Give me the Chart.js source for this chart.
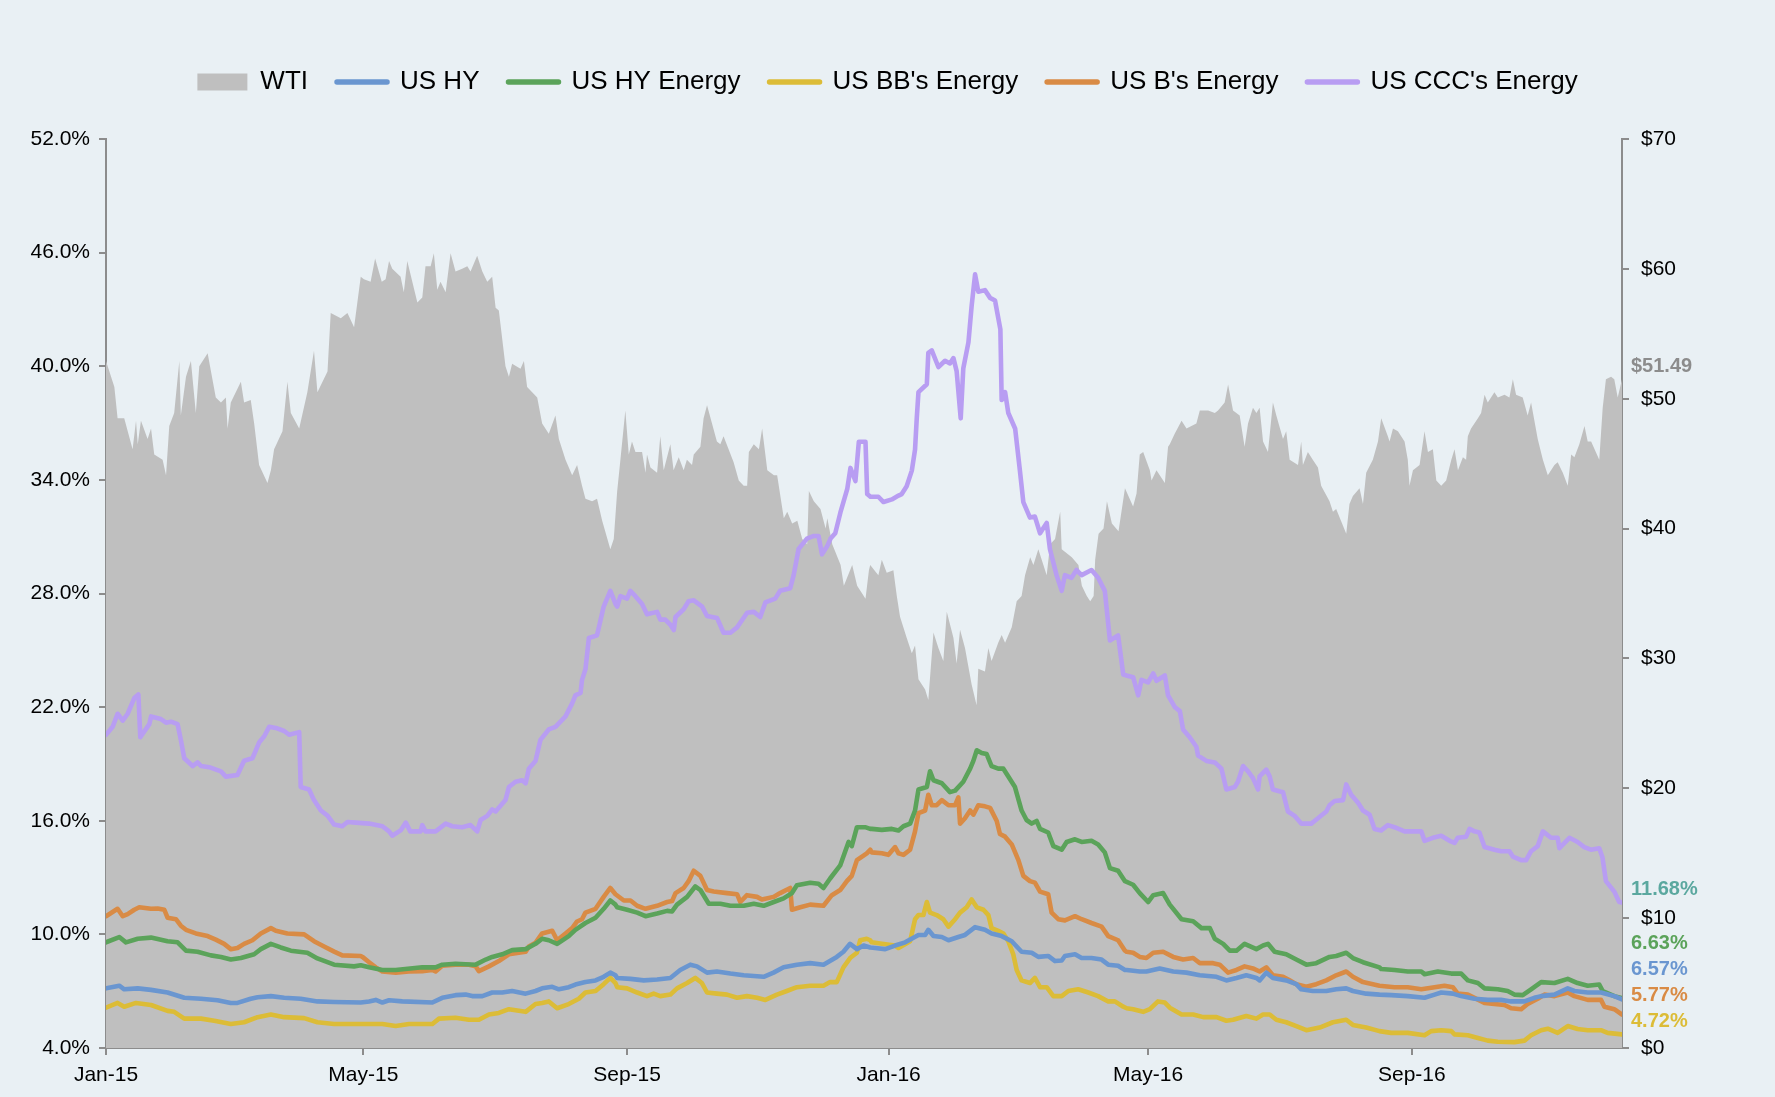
<!DOCTYPE html>
<html>
<head>
<meta charset="utf-8">
<script src="https://cdn.jsdelivr.net/npm/chart.js@4.4.1/dist/chart.umd.min.js"></script>
<style>
html, body { margin: 0; padding: 0; background: #e9f0f4; }
#wrap { width: 1775px; height: 1097px; }
</style>
</head>
<body>
<div id="wrap"><canvas id="spreadChart" width="1775" height="1097"></canvas></div>
<script>
// x values are days since 1 Jan 2015
const xTickDays = [0, 120, 243, 365, 486, 609];
const xTickLabels = ['Jan-15', 'May-15', 'Sep-15', 'Jan-16', 'May-16', 'Sep-16'];

// WTI price ($, right axis)
const wtiDays = [0,3.9,5.4,8.5,12.4,14,14.8,16.3,19.4,21,22.5,26.4,28,29.5,31.8,34.2,34.9,37.3,39.6,41.9,43.5,47.4,51.2,53.6,55.9,56.7,58.2,62.9,64.4,67.5,69.1,71.4,75.3,76.9,78.4,82.3,84.6,86.2,90.1,93.9,97,98.6,103.3,104.8,109.5,112.6,115.7,
  118.8,120.3,123.4,125.5,128.6,130.4,132,133.5,137.4,138.9,140.5,145.2,147.5,149,151.4,152.9,154.5,156,158.4,160.7,163,166.1,168.5,170,173.1,175.5,177.8,180.1,181.7,183.2,186.3,187.9,189.4,193.3,194.9,196.4,201.1,203.4,206.5,209.6,211.2,214.3,217.4,219.7,222,223.6,226.7,229,231.4,235.2,
  236.8,238.4,239.9,242.2,243.8,245.3,246.9,250,251.6,252.3,253.9,257,258.5,260.1,263.2,264.7,267.1,269.4,270.9,273.3,274.1,277.2,278.7,280.3,284.9,286.5,288,292.7,295.1,297.4,299,299.8,302.1,304.5,306,308.4,311.5,313,316.1,317.7,320,322.4,324.7,327,327.8,330.1,333.2,335.6,336.4,338.7,342.6,344.1,348,350.3,354.2,355.8,
  356.4,360.2,361.8,364.1,367.2,368.8,370.3,373.4,375.8,377.3,378.9,382,383.5,385.9,388.2,390.5,392.1,395.2,396.7,398.3,400.6,403.7,406,406.8,409.9,411.5,413,416.1,417.7,419.3,422.4,424.7,427,428.6,431,432.5,434.8,438.7,440.3,442.6,445,445.7,450.4,453.5,455.1,457.4,459,460.6,461.3,462.9,465.2,466.8,469.1,472.2,
  475.2,479,480.6,482.1,483.7,486.8,487.6,489.9,493.8,495.3,496.1,498.4,501.6,503.9,508.5,510.1,514,517.1,518.6,521.7,523.3,525.6,528.7,531,532.6,534.9,536.5,538,539.6,541.9,544.2,545.8,548.9,550.4,552,555.9,557.4,558.2,560.5,562.8,565.2,566.7,570.6,572.2,573.7,578.4,579.9,581.5,584.6,586.2,587.7,590.8,
  593.2,594.7,597.8,598.6,600.2,602.5,605.6,607.1,607.9,609.5,612.6,614.9,616.5,618.8,620.4,622.7,625,627.4,628.9,630.5,632.8,634.3,635.1,636.6,639.8,641.3,642.9,644.4,647.5,649.1,652.2,654.5,656.1,657.6,660.7,663,664.6,667.7,670.1,672.4,675.5,677,679.4,681.7,683.3,684.8,687.1,689.5,691,692.6,696.4,698,699.5,701.9,703.4,705,707];
const wtiPrice = [52.9,50.9,48.5,48.5,46.1,48.3,46.5,48.3,46.9,47.7,45.7,45.3,44.1,47.9,48.9,52.9,48.7,51.7,52.9,48.9,52.5,53.5,50.1,49.7,50.1,47.7,49.7,51.3,49.7,49.9,48.1,44.9,43.5,44.5,46.1,47.5,51.3,48.9,47.7,50.5,53.7,50.5,52.1,56.6,56.2,56.6,55.5,
  59.4,59.2,59.0,60.8,59.0,59.2,60.6,60.0,59.4,58.2,60.6,57.4,57.8,60.2,60.2,61.2,58.4,59.0,58.2,61.2,59.8,60.0,60.2,59.8,61.0,59.8,59.0,59.4,57.0,56.8,52.5,51.7,52.7,52.3,52.9,50.9,50.1,48.1,47.3,48.7,46.9,45.3,44.1,44.9,43.3,42.3,42.1,42.3,40.6,38.4,
  39.2,42.9,45.3,49.1,45.7,46.7,45.9,45.9,44.3,45.7,44.7,44.3,47.1,44.5,46.5,44.5,45.5,44.5,45.3,44.9,45.7,46.3,48.5,49.5,46.7,46.5,47.1,45.1,43.7,43.3,43.3,45.9,46.5,46.1,47.7,44.5,44.1,44.1,40.8,41.3,40.4,40.6,39.2,38.8,42.9,42.1,41.5,40.0,40.8,38.8,37.2,35.6,37.2,35.6,34.6,36.8,
  37.2,36.4,37.6,36.6,36.8,34.8,33.2,31.6,30.4,31.0,28.4,27.6,26.8,32.0,30.8,29.8,33.6,31.6,29.6,32.2,30.8,28.0,26.4,29.2,29.0,30.8,29.8,31.2,31.8,31.2,32.4,34.4,34.8,36.4,37.8,37.2,38.4,36.4,38.8,39.2,41.3,38.4,37.8,37.2,35.6,34.8,34.4,34.8,37.6,39.6,40.0,42.1,40.4,39.8,
  43.1,41.7,42.7,45.7,45.9,44.5,43.7,44.5,43.5,46.3,46.5,47.3,48.3,47.7,48.1,49.1,49.1,48.9,49.1,49.7,51.1,49.1,48.7,46.3,48.1,49.3,48.9,49.3,46.7,45.9,49.7,48.7,46.9,47.5,45.3,44.9,46.7,44.9,45.9,45.3,44.7,43.3,42.1,41.3,41.5,39.6,41.9,42.5,43.1,41.9,44.3,45.3,
  46.7,48.5,47.1,46.7,47.7,47.5,46.7,45.3,43.3,44.5,44.9,47.5,45.9,46.1,43.7,43.3,43.7,45.3,46.1,44.5,45.5,45.3,47.1,47.7,48.5,48.9,50.3,49.7,50.5,50.1,50.3,50.1,51.5,50.3,50.1,48.7,49.7,46.9,45.3,44.1,44.9,45.1,44.3,43.3,45.7,45.5,46.5,47.9,46.7,46.7,45.3,49.3,51.5,51.7,51.5,50.1,51.49];

// US HY yield (%)
const hyDays = [0,6.2,8.5,14.8,21,28.7,36.5,44.3,52,58.2,61.3,67.5,70.7,76.9,83.1,90.8,98.6,106.4,118.8,
  122.7,125.8,128.9,132,138.2,152.2,156.8,163,167.7,170.8,175.5,180.1,184.8,189.4,195.7,200.3,203.4,208.1,211.2,215.8,218.9,223.6,228.3,232.1,235.2,237.6,
  238.4,244.6,250.8,257,263.2,267.8,272.5,275.6,280.3,284.9,291.2,297.4,306.7,311.3,316,322.2,328.4,334.6,340.8,343.9,347,350.2,353.3,356.4,
  358.7,363.4,368,372.7,378.9,382,383.5,385.9,389.8,392.9,397.5,400.6,405.3,409.9,413,417.7,422.4,427,431.7,434.8,439.4,442.6,445.7,447.2,451.9,455,459.6,464.3,467.4,472,475.2,
  476,482.1,485.2,491.4,497.7,503.9,510.1,517.9,522.5,527.2,531.8,536.5,538,541.1,544.2,550.4,555.1,557.4,562.8,569.1,573.7,578.4,581.5,587.7,593.9,
  599.4,607.1,614.9,619.6,622.7,628.1,632,638.2,644.4,650.6,655.3,661.5,666.1,669.3,675.5,681.7,684.8,691,697.2,703.4,707];
const hyYield = [7.15,7.29,7.10,7.15,7.07,6.93,6.65,6.60,6.52,6.38,6.38,6.60,6.68,6.74,6.65,6.60,6.46,6.43,6.40,
  6.46,6.54,6.40,6.52,6.46,6.40,6.65,6.79,6.82,6.74,6.74,6.93,6.93,7.01,6.87,7.01,7.15,7.23,7.10,7.21,7.35,7.48,7.57,7.76,7.98,7.84,
  7.70,7.65,7.57,7.62,7.70,8.12,8.40,8.31,7.98,8.04,7.93,7.84,7.76,7.98,8.26,8.40,8.48,8.40,8.81,9.08,9.50,9.22,9.41,9.31,
  9.28,9.22,9.41,9.58,9.97,9.97,10.24,9.91,9.86,9.69,9.86,9.97,10.38,10.24,10.05,9.91,9.64,9.08,9.03,8.81,8.86,8.59,8.62,8.86,8.95,8.75,8.75,8.67,8.40,8.34,8.12,
  8.12,8.04,8.04,8.20,8.04,7.98,7.84,7.76,7.57,7.70,7.84,7.70,7.57,7.98,7.70,7.57,7.37,7.10,7.01,7.01,7.10,7.15,7.01,6.87,6.82,
  6.79,6.74,6.65,6.82,6.93,6.87,6.74,6.60,6.54,6.54,6.46,6.46,6.65,6.74,6.82,7.15,7.01,6.93,6.93,6.74,6.57];

// US HY Energy yield (%)
const hyEnergyDays = [0,6.2,9.3,14.8,21,28.7,33.4,37.3,42.7,48.9,53.6,58.2,62.9,69.1,72.2,76.9,81.5,86.2,93.9,98.6,106.4,115.7,118.8,
  122.7,128.9,135.1,147.5,153.7,156.8,163,172.4,177.1,180.1,184.8,189.4,195.7,200.3,203.4,206.5,210.4,215.8,218.9,223.6,228.3,232.1,235.2,237.6,
  238.4,243,247.7,251.6,257,261.7,264,266.3,271,274.8,277.2,281.1,286.5,291.2,297.4,302.1,306.7,311.4,316,319.9,322.2,328.4,332.3,334.6,337.7,342.4,346.3,347.8,350.2,354,356.4,
  357.1,361.8,366.5,369.6,371.9,375,377.3,378.9,382.8,384.3,385.9,389.8,393.6,396,399.8,403,404.5,406.1,408.4,410.7,413,416.1,418.5,420.8,423.9,427,429.3,431.7,434,435.6,439.4,441.8,445.7,448,451.9,455,459.6,462.7,465.8,468.2,472,475.2,
  479,482.1,486,488.4,493,496.1,501.6,507,510.9,514.8,517.1,521,524.1,527.2,531,536.5,539.6,541.9,545,550.4,555.1,559.8,564.4,570.6,573.7,578.4,581.5,586.2,593.9,
  594.7,600.9,607.1,613.4,614.9,621.1,627.4,632,635.1,639.8,642.9,649.1,653.7,656.8,660.7,664.6,669.3,675.5,681.7,686.3,691,696.4,698,703.4,707];
const hyEnergyYield = [9.58,9.86,9.58,9.77,9.83,9.64,9.58,9.14,9.08,8.89,8.81,8.67,8.75,8.95,9.22,9.50,9.31,9.14,9.03,8.73,8.40,8.31,8.37,
  8.26,8.12,8.12,8.26,8.26,8.40,8.45,8.40,8.67,8.81,8.95,9.17,9.22,9.50,9.77,9.69,9.50,9.91,10.24,10.60,10.88,11.35,11.79,11.57,
  11.43,11.30,11.15,10.96,11.10,11.24,11.21,11.57,11.98,12.53,12.34,11.62,11.62,11.51,11.51,11.62,11.51,11.71,11.90,12.18,12.59,12.73,12.67,12.45,12.95,13.64,14.88,14.66,15.66,15.66,15.57,
  15.57,15.52,15.57,15.49,15.71,15.85,16.54,17.65,17.78,18.61,18.14,17.98,17.51,17.59,18.06,18.75,19.16,19.72,19.58,19.52,18.89,18.75,18.75,18.34,17.78,16.54,16.04,15.85,15.99,15.57,15.38,14.66,14.47,14.88,15.02,14.88,14.94,14.75,14.33,13.50,13.36,12.81,
  12.62,12.18,11.71,12.07,12.18,11.57,10.80,10.69,10.33,10.33,9.77,9.50,9.14,9.14,9.50,9.22,9.41,9.50,9.08,8.95,8.67,8.40,8.48,8.81,8.86,9.03,8.75,8.53,8.26,
  8.17,8.12,8.04,8.04,7.90,8.04,7.93,7.93,7.57,7.43,7.15,7.10,7.01,6.82,6.79,7.10,7.48,7.43,7.65,7.43,7.29,7.35,7.01,6.74,6.63];

// US BB's Energy yield (%)
const bbDays = [0,5.4,8.5,14,21,28.7,31.8,36.5,44.3,50.5,58.2,64.4,70.7,76.9,83.1,92.4,98.6,106.4,118.8,
  128.9,135.1,141.3,152.2,155.3,163,169.3,173.9,178.6,183.2,187.9,195.7,200.3,203.4,206.5,210.4,215.8,220.5,223.6,228.3,232.1,235.2,237.6,
  238.4,243,247.7,252.3,255.4,258.5,263.2,266.3,271,274.8,277.9,280.3,284.9,289.6,294.3,298.9,303.6,307.5,312.9,317.5,322.2,328.4,334.6,337.7,340.8,343.9,347,350.2,351.7,354.8,356.4,
  357.1,361.8,368,369.6,375,377.3,378.9,381.2,382.8,384.3,387.4,390.5,392.9,396,398.3,401.4,403.7,406.1,409.2,411.5,413,416.1,418.5,420.8,423.1,424.7,427,430.9,433.2,435.6,438.7,441.8,445.7,448.8,453.4,458.1,462.7,467.4,470.5,474.4,
  476,479,483.7,486.8,490.6,493.8,496.1,501.6,507,511.7,517.9,522.5,525.6,531.8,536.5,539.6,542.7,545.8,550.4,555.1,559.8,566,572.2,578.4,581.5,587.7,593.9,
  599.4,607.1,614.9,618,622.7,627.4,628.9,635.1,639.8,644.4,649.1,656.8,661.5,664.6,669.3,672.4,677,681.7,686.3,691,697.2,700.3,707];
const bbYield = [6.13,6.38,6.18,6.38,6.27,5.96,5.91,5.55,5.55,5.44,5.27,5.36,5.63,5.77,5.63,5.58,5.36,5.27,5.27,
  5.27,5.16,5.27,5.27,5.55,5.60,5.49,5.49,5.77,5.85,6.05,5.91,6.32,6.38,6.46,6.10,6.32,6.60,6.93,7.01,7.37,7.70,7.43,
  7.21,7.15,6.93,6.74,6.87,6.74,6.82,7.15,7.43,7.70,7.43,6.93,6.87,6.82,6.65,6.74,6.65,6.54,6.82,7.01,7.21,7.29,7.29,7.48,7.48,8.26,8.75,9.03,9.69,9.77,9.69,
  9.58,9.50,9.41,9.28,9.64,10.80,11.02,11.02,11.71,11.15,11.02,10.80,10.41,10.80,11.15,11.43,11.84,11.43,11.30,11.02,10.33,10.19,10.05,9.64,8.95,8.12,7.57,7.43,7.70,7.21,7.21,6.74,6.74,7.01,7.10,6.93,6.74,6.46,6.46,6.18,
  6.10,6.05,5.91,6.05,6.46,6.40,6.13,5.77,5.77,5.63,5.63,5.44,5.49,5.69,5.55,5.77,5.77,5.49,5.36,5.16,4.94,5.08,5.36,5.49,5.22,5.08,4.89,
  4.80,4.80,4.67,4.89,4.94,4.89,4.72,4.67,4.53,4.39,4.33,4.31,4.39,4.67,4.94,5.02,4.80,5.16,5.00,4.94,4.94,4.80,4.72];

// US B's Energy yield (%)
const bDays = [0,5.4,7.8,10.1,13.2,15.5,21,24.1,27.2,28.7,32.6,34.9,37.3,41.9,47.4,51.2,55.1,58.2,61.3,64.4,68.3,72.2,76.9,79.2,84.6,92.4,97,101.7,106.4,110.2,118.8,
  119.6,122.7,125.8,128.9,135.1,141.3,147.5,152.2,153.7,156.8,163,169.3,172.4,173.9,178.6,183.2,187.9,192.5,195.7,197.2,200.3,203.4,208.1,210.4,214.3,217.4,219.7,222,223.6,228.3,232.1,235.2,237.6,
  241.5,244.6,247.7,251.6,257,261.7,264,265.6,269.4,271.7,274.1,277.2,280.3,283.4,289.6,294.3,295.8,298.9,303.6,305.9,311.3,314.4,319.1,319.9,323.8,328.4,334.6,338.5,342.4,345.5,347.8,350.2,354.8,356.4,
  357.1,361.8,364.9,368,369.6,371.9,375,377.3,378.9,382,383.5,385.1,387.4,389.8,392.9,396,397.5,398.3,400.6,403,404.5,406.8,409.9,412.3,415.4,416.9,419.3,422.4,425.5,427.8,430.9,433.2,435.6,439.4,441,444.1,447.2,451.9,455,459.6,464.3,467.4,472,475.2,
  476,479,482.1,485.2,488.4,493,497.7,502.3,507,510.1,516.3,519.4,523.3,527.2,531,534.9,538,541.1,544.2,548.9,552,555.1,559.8,564.4,569.1,573.7,578.4,581.5,586.2,593.9,
  600.9,607.1,613.4,619.6,624.2,628.1,630.4,635.1,638.2,642.9,647.5,652.2,655.3,660,663,667.7,670.8,675.5,681.7,684.8,691,697.2,698.8,703.4,707];
const bYield = [10.96,11.35,10.96,11.07,11.30,11.43,11.35,11.37,11.30,10.88,10.80,10.46,10.24,10.05,9.91,9.72,9.50,9.22,9.28,9.50,9.69,10.05,10.33,10.19,10.05,10.00,9.64,9.36,9.09,8.89,8.86,
  8.81,8.53,8.26,8.04,7.98,8.04,8.06,8.12,8.04,8.34,8.40,8.40,8.31,8.06,8.31,8.59,8.95,9.03,9.08,9.36,9.55,10.05,10.19,9.69,10.05,10.33,10.68,10.80,11.15,11.35,11.98,12.45,12.12,
  11.79,11.79,11.51,11.35,11.51,11.71,11.76,12.18,12.45,12.81,13.36,13.09,12.34,12.26,12.18,12.12,11.71,12.07,11.98,11.84,11.98,12.18,12.45,11.30,11.43,11.57,11.51,12.07,12.34,12.81,13.09,13.92,14.28,14.47,
  14.33,14.28,14.20,14.61,14.28,14.20,14.47,15.44,16.40,16.54,17.37,16.82,16.82,17.09,16.82,16.82,17.23,15.85,16.13,16.54,16.32,16.82,16.76,16.68,15.99,15.30,15.16,14.75,13.92,13.09,12.81,12.73,12.26,12.12,11.15,10.80,10.74,10.96,10.80,10.60,10.41,9.91,9.69,9.14,
  9.08,9.03,8.81,8.75,9.03,9.08,8.81,8.67,8.75,8.48,8.48,8.40,7.98,8.12,8.31,8.20,8.04,8.26,7.84,7.76,7.57,7.37,7.23,7.37,7.57,7.84,8.04,7.76,7.48,7.29,
  7.21,7.21,7.10,7.21,7.29,7.21,6.87,6.82,6.65,6.38,6.32,6.27,6.10,6.05,6.32,6.60,6.82,6.74,6.93,6.74,6.54,6.54,6.18,6.05,5.77];

// US CCC's Energy yield (%)
const cccDays = [0,3.1,5.4,7.8,10.1,13.2,15.1,16,20.2,21,25.6,28,30.3,33.4,34.9,36.5,40.4,42.7,44.3,48.1,53.6,55.9,61.3,64.4,68.3,71.4,73.8,76.1,79.2,83.1,85.4,90.1,90.8,94.7,97,100.2,103.3,106.4,110.2,112.6,
  116.5,122.7,128.9,132,133.5,137.4,139.8,141.9,146.7,147.5,149,153.7,158.4,161.5,166.1,170,173.1,174.7,177.8,180.1,181.7,186.3,187.9,191,194.1,195.7,197.2,200.3,202.6,206.5,209.6,214.3,217.4,218.9,221.3,222,223.6,225.2,229,232.1,235.2,237.6,
  238.4,239.9,243,244.5,246.9,250,252.3,257,258.5,260.8,263.2,264.8,265.6,269.4,271.7,274.1,278,280.3,285,288,291.2,294.3,299,302.1,305.1,307.5,312.1,314.4,319.1,320.7,323,326.9,330.1,332.3,333.9,336.3,337.9,340.1,342.5,345.7,347.2,349.5,351.1,354.2,355,356.5,
  360.2,362.6,366.5,369.6,371.1,373.4,375.8,377.3,378.1,378.9,382.8,383.5,385.1,388.2,391.3,393.6,395.2,396.7,398.6,399.8,402.2,403.7,405.3,406.8,409.9,412.3,414.6,417.1,417.7,419.3,420.8,424,426.2,427.8,430.9,433.2,435.6,438.7,440.2,443.3,445.7,447.2,450.3,452.6,455,459.6,462.7,465.8,468.2,472,474.4,
  475.9,479,481.4,482.9,486,488.4,489.9,493.8,495.3,498.4,500.8,502.3,505.4,508.5,509.3,513.2,517.1,520.2,522.5,526.4,527.9,530.3,532.6,534.9,537.3,538,541.1,542.7,544.2,548.9,551.2,554.3,557.4,562.1,565.2,569.1,570.6,573,576.9,578.4,580.7,583.9,586.2,589.3,591.6,
  594.7,597.8,600.9,605.6,613.4,614.9,618.8,622.7,626.6,628.9,630.4,634.3,635.9,638.2,640.5,642.9,647.5,650.6,654.5,656.1,660,662.3,664.6,667.7,670.1,673.9,677,677.8,682.5,686.3,689.4,692.5,696.4,697.9,699.5,703.4,705.7,707];
const cccYield = [20.54,20.96,21.65,21.29,21.65,22.48,22.67,20.41,21.10,21.51,21.37,21.18,21.23,21.10,20.27,19.30,18.89,19.08,18.89,18.83,18.61,18.33,18.42,19.17,19.30,20.13,20.46,20.96,20.90,20.74,20.54,20.68,17.78,17.65,17.09,16.54,16.27,15.80,15.71,15.93,
  15.90,15.85,15.71,15.44,15.21,15.49,15.90,15.44,15.44,15.77,15.44,15.44,15.85,15.71,15.66,15.77,15.44,16.04,16.26,16.60,16.49,17.09,17.78,18.06,18.14,17.98,18.75,19.16,20.27,20.82,20.96,21.51,22.20,22.62,22.75,23.44,24.00,25.65,25.79,27.31,28.14,27.45,
  27.31,27.86,27.73,28.14,27.86,27.45,26.90,27.03,26.62,26.62,26.35,26.07,26.76,27.17,27.59,27.64,27.31,26.81,26.70,25.93,25.93,26.21,26.98,27.03,26.76,27.53,27.73,28.14,28.28,28.97,30.35,30.90,31.04,31.04,30.07,30.49,30.90,31.18,32.28,33.53,34.63,33.94,36.01,36.01,33.25,33.11,
  33.11,32.83,32.97,33.17,33.25,33.66,34.49,35.60,37.25,38.63,39.05,40.71,40.84,39.96,40.29,40.15,40.43,39.74,37.25,39.88,41.26,43.19,44.85,43.94,44.02,43.61,43.47,41.95,38.22,38.63,37.53,36.70,34.49,32.83,32.01,32.06,31.18,31.73,30.35,28.97,28.14,28.97,28.83,29.24,28.97,29.24,28.83,28.14,25.52,25.79,23.72,
  23.67,23.58,22.62,23.44,23.31,23.78,23.39,23.67,22.62,22.01,21.79,20.82,20.41,19.91,19.44,19.16,19.08,18.75,17.65,17.78,18.06,18.89,18.61,18.25,17.65,18.34,18.70,18.34,17.65,17.51,16.49,16.26,15.85,15.85,16.13,16.49,16.82,17.04,17.09,17.92,17.37,16.95,16.54,16.32,15.57,
  15.49,15.77,15.66,15.44,15.44,14.94,15.10,15.21,14.94,14.83,15.10,15.16,15.57,15.44,15.38,14.61,14.47,14.39,14.39,14.11,13.92,13.92,14.39,14.66,15.44,15.10,15.10,14.55,15.10,14.88,14.61,14.47,14.55,14.06,12.81,12.26,11.71,11.68];

const FONT = '"Liberation Sans", Arial, sans-serif';
Chart.defaults.font.family = FONT;
Chart.defaults.color = '#111';

const toPoints = (xs, ys) => xs.map((x, i) => ({x: x, y: ys[i]}));

function lineSet(label, xs, ys, color) {
    return {
        label: label,
        data: toPoints(xs, ys),
        borderColor: color,
        backgroundColor: color,
        borderWidth: 4.6,
        pointRadius: 0,
        tension: 0,
        borderJoinStyle: 'round',
        borderCapStyle: 'round',
        yAxisID: 'y',
        order: 0
    };
}

// label colours at the right edge
const endLabelColors = {
    'US HY': '#6a96d0',
    'US HY Energy': '#5ba35a',
    "US BB's Energy": '#dcbc37',
    "US B's Energy": '#d98b45',
    "US CCC's Energy": '#5ba89f'
};

// make the legend row take the space above the plot
const legendSpace = {
    id: 'legendSpace',
    beforeInit(chart) {
        const fit = chart.legend.fit;
        chart.legend.fit = function () {
            fit.call(this);
            this.height = 99;
        };
    }
};

const endLabels = {
    id: 'endLabels',
    afterDatasetsDraw(chart) {
        const {ctx, chartArea, scales} = chart;
        const x = chartArea.right + 9;
        ctx.save();
        ctx.font = 'bold 20px ' + FONT;
        ctx.textBaseline = 'middle';
        ctx.textAlign = 'left';

        const wtiLast = wtiPrice[wtiPrice.length - 1];
        ctx.fillStyle = '#8c8c8c';
        ctx.fillText('$' + wtiLast.toFixed(2), x, scales.y2.getPixelForValue(wtiLast) - 13);

        const items = chart.data.datasets.slice(1).map(ds => ({
            label: ds.label,
            value: ds.data[ds.data.length - 1].y
        }));
        items.sort((a, b) => a.value - b.value);
        let prev = Infinity;
        items.forEach(it => {
            let y = scales.y.getPixelForValue(it.value) - 13;
            if (y > prev - 26) y = prev - 26;
            prev = y;
            ctx.fillStyle = endLabelColors[it.label];
            ctx.fillText(it.value.toFixed(2) + '%', x, y);
        });
        ctx.restore();
    }
};

const ctx = document.getElementById('spreadChart').getContext('2d');
const spreadChart = new Chart(ctx, {
    type: 'line',
    data: {
        datasets: [
            {
                label: 'WTI',
                data: toPoints(wtiDays, wtiPrice),
                borderWidth: 0,
                borderColor: 'rgba(0,0,0,0)',
                backgroundColor: '#bfbfbf',
                fill: 'origin',
                pointRadius: 0,
                tension: 0,
                yAxisID: 'y2',
                order: 1
            },
            lineSet('US HY', hyDays, hyYield, '#6a96d0'),
            lineSet('US HY Energy', hyEnergyDays, hyEnergyYield, '#5ba35a'),
            lineSet("US BB's Energy", bbDays, bbYield, '#dcbc37'),
            lineSet("US B's Energy", bDays, bYield, '#d98b45'),
            lineSet("US CCC's Energy", cccDays, cccYield, '#b89df2')
        ]
    },
    options: {
        responsive: false,
        animation: false,
        events: [],
        layout: { padding: { top: 40, left: 0, right: 0, bottom: 0 } },
        plugins: {
            tooltip: { enabled: false },
            legend: {
                position: 'top',
                labels: {
                    usePointStyle: true,
                    pointStyleWidth: 50,
                    boxHeight: 17,
                    padding: 29,
                    color: '#000',
                    font: { size: 26 },
                    generateLabels: chart => chart.data.datasets.map((ds, i) => i === 0 ? {
                        text: ds.label,
                        datasetIndex: i,
                        pointStyle: 'rect',
                        fillStyle: ds.backgroundColor,
                        strokeStyle: ds.backgroundColor,
                        lineWidth: 0,
                        fontColor: '#000'
                    } : {
                        text: ds.label,
                        datasetIndex: i,
                        pointStyle: 'line',
                        fillStyle: ds.borderColor,
                        strokeStyle: ds.borderColor,
                        lineWidth: 5.5,
                        lineCap: 'round',
                        fontColor: '#000'
                    })
                }
            }
        },
        scales: {
            x: {
                type: 'linear',
                min: 0,
                max: 707,
                afterBuildTicks: scale => {
                    scale.ticks = xTickDays.map(v => ({value: v}));
                },
                afterFit: scale => { scale.height = 49; },
                ticks: {
                    autoSkip: false,
                    maxRotation: 0,
                    padding: 8,
                    font: { size: 21 },
                    color: '#000',
                    callback: value => xTickLabels[xTickDays.indexOf(value)]
                },
                grid: { drawOnChartArea: false, tickLength: 7, color: '#8c8c8c', lineWidth: 2 },
                border: { color: '#8c8c8c', width: 2 }
            },
            y: {
                position: 'left',
                min: 4,
                max: 52,
                afterFit: scale => { scale.width = 106; },
                ticks: {
                    stepSize: 6,
                    padding: 9,
                    font: { size: 21 },
                    color: '#000',
                    callback: value => value.toFixed(1) + '%'
                },
                grid: { drawOnChartArea: false, tickLength: 7, color: '#8c8c8c', lineWidth: 2 },
                border: { color: '#8c8c8c', width: 2 }
            },
            y2: {
                position: 'right',
                min: 0,
                max: 70,
                afterFit: scale => { scale.width = 153; },
                ticks: {
                    stepSize: 10,
                    padding: 12,
                    font: { size: 21 },
                    color: '#000',
                    callback: value => '$' + value
                },
                grid: { drawOnChartArea: false, tickLength: 7, color: '#8c8c8c', lineWidth: 2 },
                border: { color: '#8c8c8c', width: 2 }
            }
        }
    },
    plugins: [legendSpace, endLabels]
});
</script>
</body>
</html>
